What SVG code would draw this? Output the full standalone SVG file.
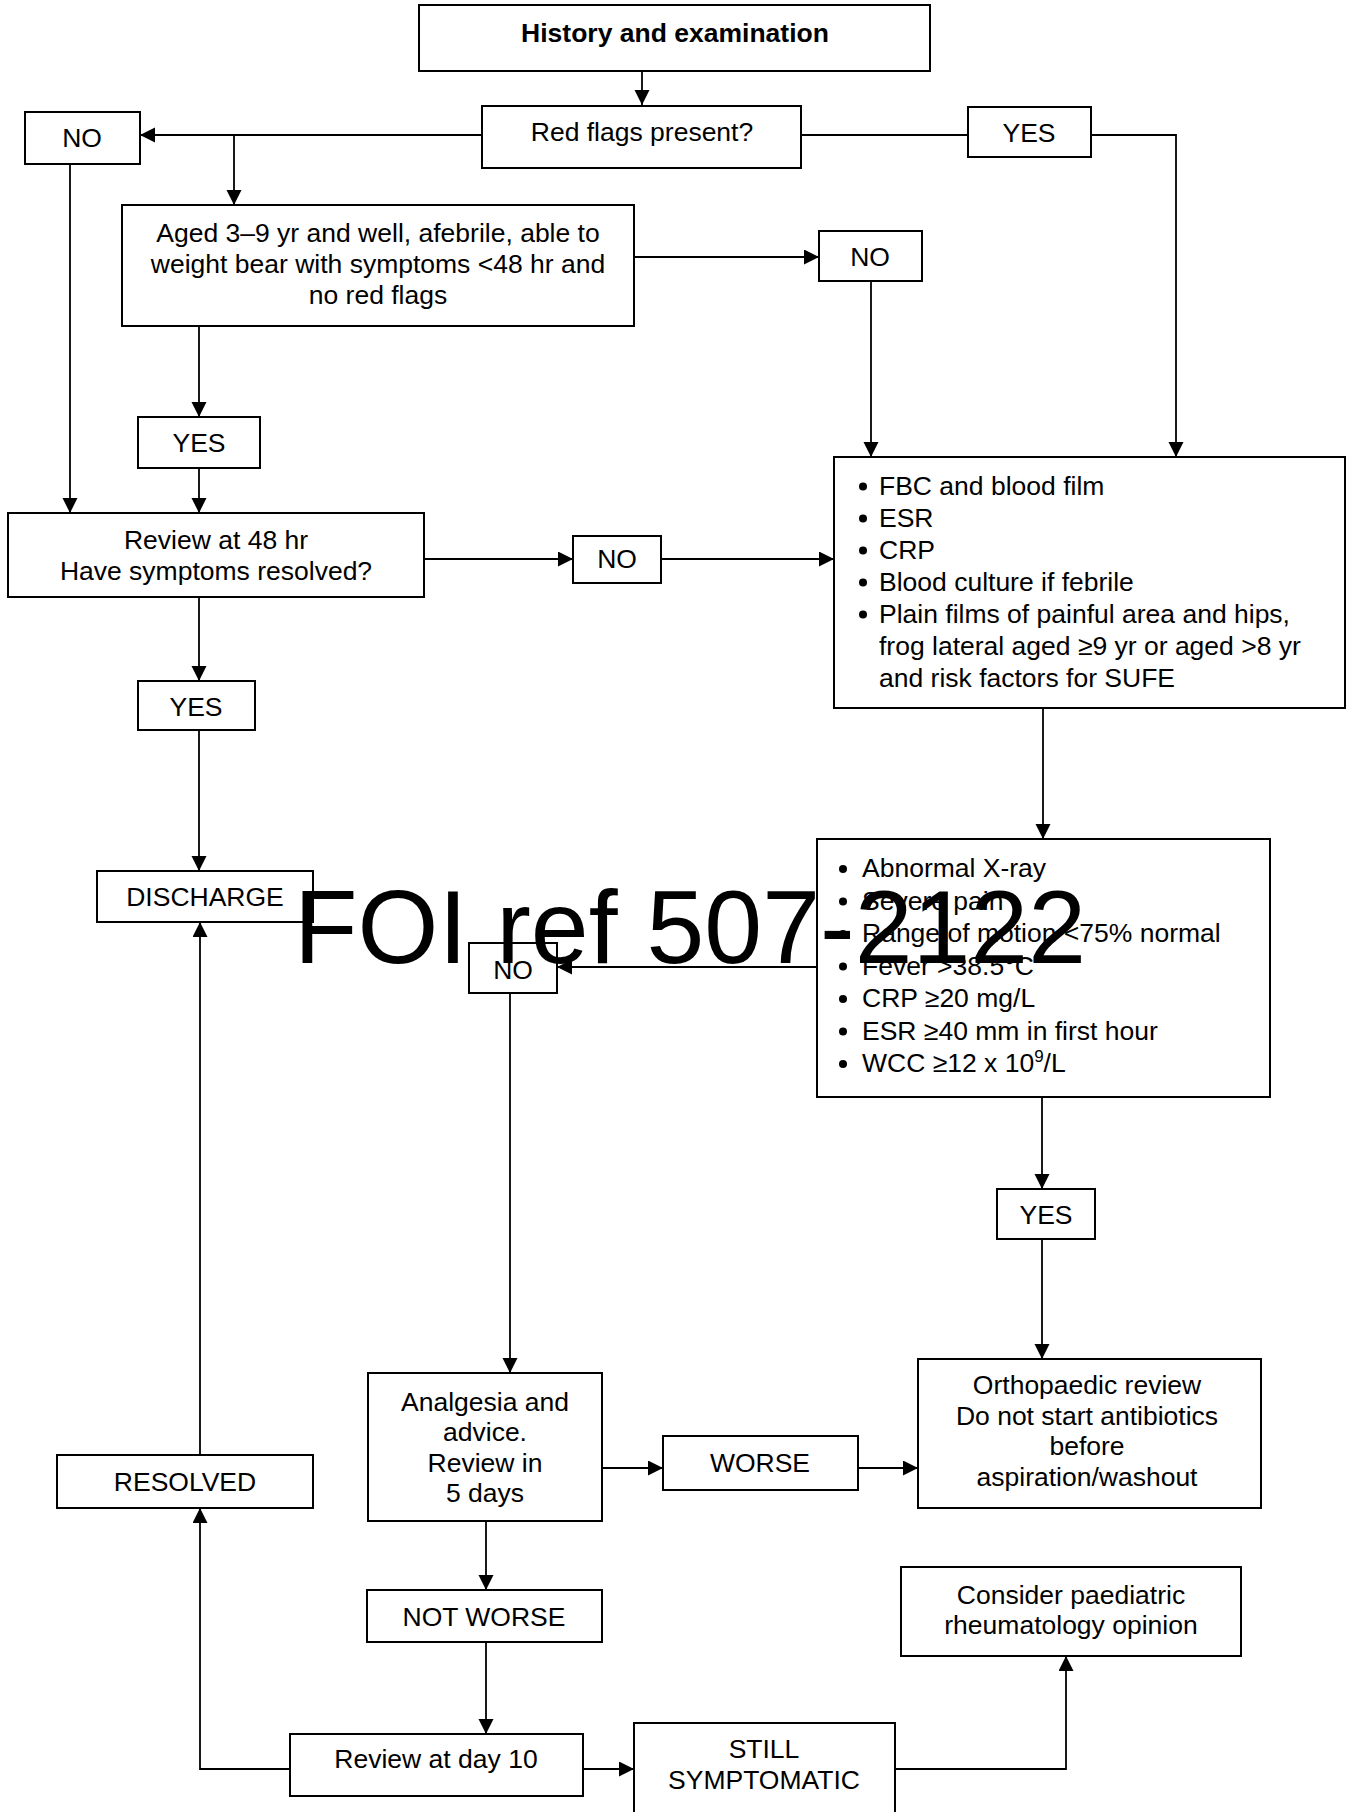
<svg xmlns="http://www.w3.org/2000/svg" width="1348" height="1812" viewBox="0 0 1348 1812">
<style>
  .box { fill: #fff; stroke: #000; stroke-width: 2; }
  .ln { fill: none; stroke: #000; stroke-width: 1.8; }
  .t { font-family: "Liberation Sans", Arial, sans-serif; font-size: 26.5px; fill: #000; text-anchor: middle; }
  .tl { font-family: "Liberation Sans", Arial, sans-serif; font-size: 26.5px; fill: #000; }
  .b { font-weight: bold; }
  .wm { font-family: "Liberation Sans", Arial, sans-serif; font-size: 104px; fill: #000; }
</style>
<defs>
  <marker id="ah" markerUnits="userSpaceOnUse" markerWidth="16" markerHeight="16" refX="15" refY="7.5" orient="auto">
    <path d="M0,0 L15,7.5 L0,15 z" fill="#000"/>
  </marker>
</defs>
<rect width="1348" height="1812" fill="#fff"/>

<g id="connectors">
  <path class="ln" d="M642,71 L642,105" marker-end="url(#ah)"/>
  <path class="ln" d="M482,135 L140,135" marker-end="url(#ah)"/>
  <path class="ln" d="M234,135 L234,205" marker-end="url(#ah)"/>
  <path class="ln" d="M801,135 L968,135"/>
  <path class="ln" d="M1091,135 L1176,135 L1176,457" marker-end="url(#ah)"/>
  <path class="ln" d="M634,257 L819,257" marker-end="url(#ah)"/>
  <path class="ln" d="M871,281 L871,457" marker-end="url(#ah)"/>
  <path class="ln" d="M199,326 L199,417" marker-end="url(#ah)"/>
  <path class="ln" d="M199,468 L199,513" marker-end="url(#ah)"/>
  <path class="ln" d="M70,164 L70,513" marker-end="url(#ah)"/>
  <path class="ln" d="M424,559 L573,559" marker-end="url(#ah)"/>
  <path class="ln" d="M661,559 L834,559" marker-end="url(#ah)"/>
  <path class="ln" d="M199,597 L199,681" marker-end="url(#ah)"/>
  <path class="ln" d="M199,730 L199,871" marker-end="url(#ah)"/>
  <path class="ln" d="M1043,708 L1043,839" marker-end="url(#ah)"/>
  <path class="ln" d="M817,967 L557,967" marker-end="url(#ah)"/>
  <path class="ln" d="M510,993 L510,1373" marker-end="url(#ah)"/>
  <path class="ln" d="M1042,1097 L1042,1189" marker-end="url(#ah)"/>
  <path class="ln" d="M1042,1239 L1042,1359" marker-end="url(#ah)"/>
  <path class="ln" d="M602,1468 L663,1468" marker-end="url(#ah)"/>
  <path class="ln" d="M858,1468 L918,1468" marker-end="url(#ah)"/>
  <path class="ln" d="M486,1521 L486,1590" marker-end="url(#ah)"/>
  <path class="ln" d="M486,1642 L486,1734" marker-end="url(#ah)"/>
  <path class="ln" d="M583,1769 L634,1769" marker-end="url(#ah)"/>
  <path class="ln" d="M290,1769 L200,1769 L200,1508" marker-end="url(#ah)"/>
  <path class="ln" d="M200,1455 L200,922" marker-end="url(#ah)"/>
  <path class="ln" d="M895,1769 L1066,1769 L1066,1656" marker-end="url(#ah)"/>
</g>

<g id="history">
  <rect class="box" x="419" y="5" width="511" height="66"/>
  <text class="t b" x="675" y="42">History and examination</text>
</g>
<g id="redflags">
  <rect class="box" x="482" y="106" width="319" height="62"/>
  <text class="t" x="642" y="141">Red flags present?</text>
</g>
<g id="no1">
  <rect class="box" x="25" y="112" width="115" height="52"/>
  <text class="t" x="82" y="147">NO</text>
</g>
<g id="yes1">
  <rect class="box" x="968" y="107" width="123" height="50"/>
  <text class="t" x="1029" y="142">YES</text>
</g>
<g id="aged">
  <rect class="box" x="122" y="205" width="512" height="121"/>
  <text class="t" x="378" y="242">Aged 3–9 yr and well, afebrile, able to</text>
  <text class="t" x="378" y="273">weight bear with symptoms &lt;48 hr and</text>
  <text class="t" x="378" y="304">no red flags</text>
</g>
<g id="no2">
  <rect class="box" x="819" y="231" width="103" height="50"/>
  <text class="t" x="870" y="266">NO</text>
</g>
<g id="yes2">
  <rect class="box" x="138" y="417" width="122" height="51"/>
  <text class="t" x="199" y="452">YES</text>
</g>
<g id="review48">
  <rect class="box" x="8" y="513" width="416" height="84"/>
  <text class="t" x="216" y="549">Review at 48 hr</text>
  <text class="t" x="216" y="580">Have symptoms resolved?</text>
</g>
<g id="no3">
  <rect class="box" x="573" y="536" width="88" height="47"/>
  <text class="t" x="617" y="568">NO</text>
</g>
<g id="tests">
  <rect class="box" x="834" y="457" width="511" height="251"/>
  <circle cx="863" cy="486.5" r="4"/>
  <circle cx="863" cy="518.5" r="4"/>
  <circle cx="863" cy="550.5" r="4"/>
  <circle cx="863" cy="582.5" r="4"/>
  <circle cx="863" cy="614.5" r="4"/>
  <text class="tl" x="879" y="494.5">FBC and blood film</text>
  <text class="tl" x="879" y="526.5">ESR</text>
  <text class="tl" x="879" y="558.5">CRP</text>
  <text class="tl" x="879" y="590.5">Blood culture if febrile</text>
  <text class="tl" x="879" y="622.5">Plain films of painful area and hips,</text>
  <text class="tl" x="879" y="654.5">frog lateral aged ≥9 yr or aged &gt;8 yr</text>
  <text class="tl" x="879" y="686.5">and risk factors for SUFE</text>
</g>
<g id="yes3">
  <rect class="box" x="138" y="681" width="117" height="49"/>
  <text class="t" x="196" y="716">YES</text>
</g>
<g id="discharge">
  <rect class="box" x="97" y="871" width="216" height="51"/>
  <text class="t" x="205" y="906">DISCHARGE</text>
</g>
<g id="criteria">
  <rect class="box" x="817" y="839" width="453" height="258"/>
  <circle cx="843" cy="869" r="4"/>
  <circle cx="843" cy="901.5" r="4"/>
  <circle cx="843" cy="934" r="4"/>
  <circle cx="843" cy="966.5" r="4"/>
  <circle cx="843" cy="999" r="4"/>
  <circle cx="843" cy="1031.5" r="4"/>
  <circle cx="843" cy="1064" r="4"/>
  <text class="tl" x="862" y="877">Abnormal X-ray</text>
  <text class="tl" x="862" y="909.5">Severe pain</text>
  <text class="tl" x="862" y="942">Range of motion &lt;75% normal</text>
  <text class="tl" x="862" y="974.5">Fever &gt;38.5°C</text>
  <text class="tl" x="862" y="1007">CRP ≥20 mg/L</text>
  <text class="tl" x="862" y="1039.5">ESR ≥40 mm in first hour</text>
  <text class="tl" x="862" y="1072">WCC ≥12 x 10<tspan font-size="17" dy="-10">9</tspan><tspan dy="10">/L</tspan></text>
</g>
<g id="no4">
  <rect class="box" x="469" y="943" width="88" height="50"/>
  <text class="t" x="513" y="979">NO</text>
</g>
<g id="yes4">
  <rect class="box" x="997" y="1189" width="98" height="50"/>
  <text class="t" x="1046" y="1224">YES</text>
</g>
<g id="analgesia">
  <rect class="box" x="368" y="1373" width="234" height="148"/>
  <text class="t" x="485" y="1411">Analgesia and</text>
  <text class="t" x="485" y="1441">advice.</text>
  <text class="t" x="485" y="1472">Review in</text>
  <text class="t" x="485" y="1502">5 days</text>
</g>
<g id="worse">
  <rect class="box" x="663" y="1436" width="195" height="54"/>
  <text class="t" x="760" y="1472">WORSE</text>
</g>
<g id="ortho">
  <rect class="box" x="918" y="1359" width="343" height="149"/>
  <text class="t" x="1087" y="1394">Orthopaedic review</text>
  <text class="t" x="1087" y="1425">Do not start antibiotics</text>
  <text class="t" x="1087" y="1455">before</text>
  <text class="t" x="1087" y="1486">aspiration/washout</text>
</g>
<g id="resolved">
  <rect class="box" x="57" y="1455" width="256" height="53"/>
  <text class="t" x="185" y="1491">RESOLVED</text>
</g>
<g id="notworse">
  <rect class="box" x="367" y="1590" width="235" height="52"/>
  <text class="t" x="484" y="1626">NOT WORSE</text>
</g>
<g id="consider">
  <rect class="box" x="901" y="1567" width="340" height="89"/>
  <text class="t" x="1071" y="1604">Consider paediatric</text>
  <text class="t" x="1071" y="1634">rheumatology opinion</text>
</g>
<g id="review10">
  <rect class="box" x="290" y="1734" width="293" height="62"/>
  <text class="t" x="436" y="1768">Review at day 10</text>
</g>
<g id="still">
  <rect class="box" x="634" y="1723" width="261" height="110"/>
  <text class="t" x="764" y="1758">STILL</text>
  <text class="t" x="764" y="1789">SYMPTOMATIC</text>
</g>

<text class="wm" x="294" y="963">FOI ref 507-2122</text>
</svg>
